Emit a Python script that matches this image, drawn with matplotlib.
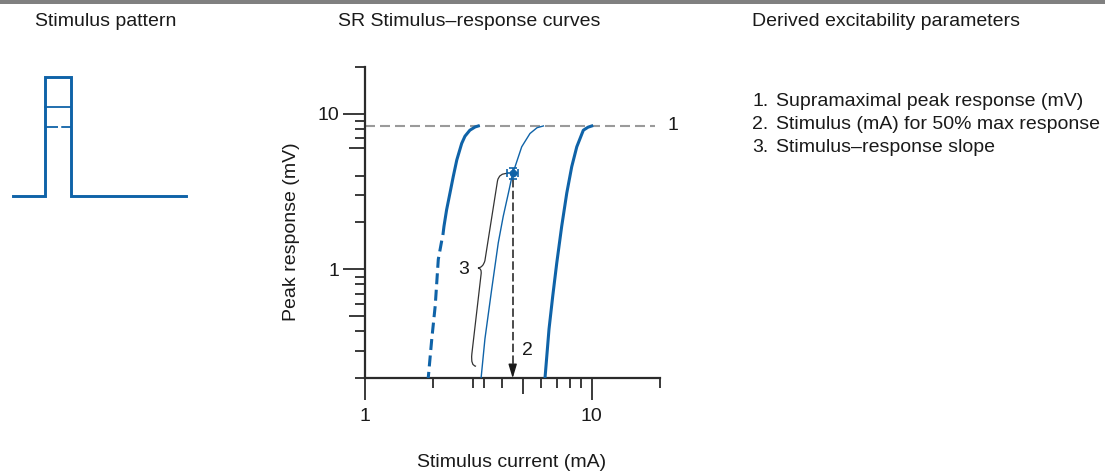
import matplotlib
matplotlib.use('Agg')
import matplotlib.pyplot as plt
from matplotlib.path import Path
from matplotlib.patches import PathPatch, Rectangle
from matplotlib.ticker import NullFormatter

plt.rcParams['font.family'] = ['Liberation Sans', 'DejaVu Sans']
plt.rcParams['font.size'] = 14

blue = '#0f63a8'
dark = '#2b2b2b'

# stimulus pattern (arbitrary time units, amplitude normalised to 1)
pulse_t = [0, 1.0, 1.0, 1.81, 1.81, 5.41]
pulse_amp = [0, 0, 1, 1, 0, 0]
mid_level = 0.748
low_level = 0.58

# SR curves (stimulus mA, peak mV)
plateau = 8.33
left_solid_x = [3.16, 3.06, 2.90, 2.76, 2.67, 2.54, 2.45, 2.37, 2.29, 2.23, 2.21]
left_solid_y = [8.33, 8.21, 7.82, 7.16, 6.44, 5.04, 3.94, 3.09, 2.41, 1.89, 1.70]
left_dash_x = [2.18, 2.105, 2.04, 1.97, 1.90]
left_dash_y = [1.53, 1.16, 0.583, 0.357, 0.20]
mid_x = [6.12, 5.74, 5.34, 4.91, 4.59, 4.48, 4.29, 4.07, 3.87, 3.62, 3.38, 3.25]
mid_y = [8.33, 8.12, 7.45, 6.12, 4.56, 4.14, 3.09, 2.19, 1.48, 0.745, 0.358, 0.20]
right_x = [10.0, 9.63, 9.18, 8.59, 8.16, 7.76, 7.37, 7.01, 6.73, 6.48, 6.22]
right_y = [8.33, 8.18, 7.82, 6.12, 4.56, 3.09, 1.89, 1.10, 0.675, 0.414, 0.20]

# 50% point with error bars
half_x, half_y = 4.48, 4.14
half_xerr, half_yerr = 0.23, 0.32

# tick positions
x_major = [1, 10]
x_minor = [2, 3, 3.35, 4, 6, 7, 8, 9, 20]
x_medium = [5]
y_major = [0.2, 1, 10, 20]
y_major = [1, 10]
y_minor = [0.2, 0.3, 0.4, 0.6, 0.7, 0.8, 0.9, 2, 3, 4, 7, 8, 9, 20]
y_medium = [0.5, 6]

# curly brace for the slope (data coords)
brace_pts = [(4.27, 4.13),
             (3.90, 4.16), (3.84, 3.70),
             (3.38, 1.14),
             (3.32, 1.03), (3.15, 1.02),
             (3.28, 1.015), (3.25, 0.929),
             (2.96, 0.287),
             (2.92, 0.240), (3.09, 0.239)]
brace_codes = [Path.MOVETO, Path.CURVE3, Path.CURVE3, Path.LINETO,
               Path.CURVE3, Path.CURVE3, Path.CURVE3, Path.CURVE3,
               Path.LINETO, Path.CURVE3, Path.CURVE3]

W, H = 1105, 473
fig = plt.figure(figsize=(W / 100, H / 100), dpi=100)

# grey band along the top
fig.patches.append(Rectangle((0, 1 - 4.5 / H), 1, 4.5 / H, transform=fig.transFigure,
                             facecolor='#808080', edgecolor='none'))

# titles
fig.text(35 / W, 1 - 22 / H, 'Stimulus pattern', ha='left', va='center', color='#1a1a1a')
fig.text(338 / W, 1 - 22 / H, 'SR Stimulus\u2013response curves', ha='left', va='center', color='#1a1a1a')
fig.text(752 / W, 1 - 22 / H, 'Derived excitability parameters', ha='left', va='center', color='#1a1a1a')

# derived parameter list
params = ['Supramaximal peak response (mV)',
          'Stimulus (mA) for 50% max response',
          'Stimulus\u2013response slope']
for i, p in enumerate(params):
    yy = 1 - (101 + 23 * i) / H
    fig.text(752 / W, yy, '%d.' % (i + 1), ha='left', va='center', color='#1a1a1a')
    fig.text(776 / W, yy, p, ha='left', va='center', color='#1a1a1a')

# stimulus pattern panel
sax = fig.add_axes([13 / W, 1 - 196 / H, 173 / W, 119 / H])
sax.plot(pulse_t, pulse_amp, color=blue, lw=2.1, clip_on=False, solid_joinstyle='miter')
sax.plot([pulse_t[2], pulse_t[3]], [mid_level, mid_level], color=blue, lw=1.3, clip_on=False)
sax.plot([pulse_t[2], pulse_t[3]], [low_level, low_level], color=blue, lw=1.3, clip_on=False,
         dashes=(7.2, 1.8))
sax.set_xlim(pulse_t[0], pulse_t[-1])
sax.set_ylim(0, 1)
sax.axis('off')

# stimulus-response panel
ax = fig.add_axes([365 / W, 1 - 378.3 / H, 295 / W, 311.6 / H])
ax.set_xscale('log')
ax.set_yscale('log')

ax.hlines(plateau, 1, 19, colors='#9a9a9a', lw=1.5, linestyles=(0, (4.8, 2.4)), clip_on=False, zorder=1)
ax.text(22.8, plateau, '1', ha='center', va='center', color='#1a1a1a')

ax.plot(left_solid_x, left_solid_y, color=blue, lw=2.2, zorder=3)
ax.plot(left_dash_x, left_dash_y, color=blue, lw=2.2, dashes=(3.6, 1.8), zorder=3)
ax.plot(mid_x, mid_y, color=blue, lw=1.0, zorder=3)
ax.plot(right_x, right_y, color=blue, lw=2.2, zorder=3)

# dashed drop line with arrow head to the x axis
ax.plot([half_x, half_x], [half_y - half_yerr, 0.225], color='#1a1a1a', lw=1.1, dashes=(5.5, 2.2), zorder=2)
ax.annotate('', xy=(half_x, 0.2), xytext=(half_x, 0.24),
            arrowprops=dict(arrowstyle='-|>,head_length=0.6,head_width=0.18', color='#1a1a1a',
                            lw=1.0, mutation_scale=14, shrinkA=0, shrinkB=0))
ax.errorbar([half_x], [half_y], xerr=[half_xerr], yerr=[half_yerr], fmt='o', color=blue,
            ms=4.5, elinewidth=1.2, capsize=3, capthick=1.2, zorder=4)
ax.text(5.18, 0.30, '2', ha='center', va='center', color='#1a1a1a')

ax.add_patch(PathPatch(Path(brace_pts, brace_codes), facecolor='none', edgecolor='#333333', lw=0.9))
ax.text(2.71, 1.0, '3', ha='center', va='center', color='#1a1a1a')

ax.set_xlim(1, 20)
ax.set_ylim(0.2, 20)
ax.set_xticks(x_major)
ax.set_xticklabels(['1', '10'])
ax.set_xticks(x_minor, minor=True)
ax.set_yticks(y_major)
ax.set_yticklabels(['1', '10'])
ax.set_yticks(y_minor, minor=True)
ax.xaxis.set_minor_formatter(NullFormatter())
ax.yaxis.set_minor_formatter(NullFormatter())
ax.tick_params(which='major', length=15.5, width=1.3, color=dark, labelcolor='#1a1a1a')
ax.tick_params(axis='x', which='major', pad=6)
ax.tick_params(axis='y', which='major', pad=3)
ax.tick_params(which='minor', length=7, width=1.3, color=dark)

# medium length ticks
ax.plot(x_medium, [0] * len(x_medium), marker=3, ms=11.5, mew=1.3, color=dark, ls='none',
        transform=ax.get_xaxis_transform(), clip_on=False)
ax.plot([0] * len(y_medium), y_medium, marker=0, ms=11.5, mew=1.3, color=dark, ls='none',
        transform=ax.get_yaxis_transform(), clip_on=False)

for s in ['top', 'right']:
    ax.spines[s].set_visible(False)
for s in ['left', 'bottom']:
    ax.spines[s].set_linewidth(1.6)
    ax.spines[s].set_color(dark)
ax.patch.set_alpha(0)

fig.text(292 / W, 1 - 232 / H, 'Peak response (mV)', rotation=90, ha='center', va='center', color='#1a1a1a')
fig.text(512 / W, 1 - 462 / H, 'Stimulus current (mA)', ha='center', va='center', color='#1a1a1a')

fig.savefig('out.png', dpi=100)
